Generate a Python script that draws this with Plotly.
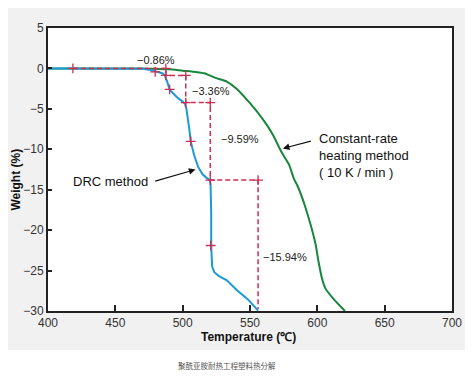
import plotly.graph_objects as go

# Constant-rate heating (10 K/min) curve
green_T = [400, 450, 470, 480, 490, 500, 510, 516, 525, 533, 540, 550, 560, 567, 572, 575, 579, 582.5,
           585.5, 591, 598.5, 601, 603.5, 606, 612, 620.5]
green_W = [0, 0, -0.02, -0.05, -0.1, -0.28, -0.45, -0.6, -1.2, -1.65, -2.5, -4.3, -6.4, -8.2, -9.9, -10.8,
           -11.9, -13.6, -14.6, -17.1, -21.6, -24.0, -26.0, -27.2, -28.5, -30]

# DRC method curve
blue_T = [400, 460, 470, 475, 479.5, 483, 485.5, 486.8, 488.5, 490.3, 493, 496, 500, 501.8, 502.8, 503.6,
          505, 506, 508.5, 511.4, 514.6, 517.5, 519.8, 520.7, 521.2, 521.2, 521.3, 521.9, 523.5, 527,
          532.8, 540.1, 548.7, 554.7, 556]
blue_W = [0, 0, -0.05, -0.15, -0.3, -0.5, -0.65, -0.9, -1.64, -2.6, -3.1, -3.6, -4.1, -4.4, -5.0, -5.8,
          -7.6, -9.06, -10.7, -12.15, -13.06, -13.5, -13.75, -14.2, -17.9, -22.05, -23.5, -24.5, -25.2,
          -25.7, -26.2, -27.4, -28.6, -29.7, -29.95]

# Step construction (dashed)
step_T = [418.5, 487.5, 487.5, 502.3, 502.3, 520.5, 520.5, 556, 556]
step_W = [0, 0, -0.86, -0.86, -4.22, -4.22, -13.81, -13.81, -29.75]
corner_T = step_T[:-1]
corner_W = step_W[:-1]
mid_T = [479.6, 490.3, 506, 520.8]
mid_W = [-0.43, -2.6, -9.02, -21.9]

step_labels = ["−0.86%", "−3.36%", "−9.59%", "−15.94%"]
label_T = [479.9, 505.8, 526.8, 558.4]
label_W = [1.04, -2.75, -8.73, -23.3]
label_anchor = ["center", "left", "left", "left"]

x_ticks = [400, 450, 500, 550, 600, 650, 700]
y_ticks = [-30, -25, -20, -15, -10, -5, 0, 5]

RED = "#cc2f50"
GREEN = "#16873b"
BLUE = "#1b9ad7"
FONT = "Liberation Sans, Arial, sans-serif"

fig = go.Figure()
fig.add_trace(go.Scatter(x=green_T, y=green_W, mode="lines",
                         line=dict(color=GREEN, width=2, shape="spline", smoothing=0.6),
                         hoverinfo="skip"))
fig.add_trace(go.Scatter(x=blue_T, y=blue_W, mode="lines",
                         line=dict(color=BLUE, width=2), hoverinfo="skip"))
fig.add_trace(go.Scatter(x=step_T, y=step_W, mode="lines",
                         line=dict(color=RED, width=1.5, dash="5px,3px"), hoverinfo="skip"))
fig.add_trace(go.Scatter(x=corner_T + mid_T, y=corner_W + mid_W, mode="markers",
                         marker=dict(symbol="cross-thin", size=7, line=dict(color=RED, width=1.3)),
                         hoverinfo="skip"))

ann = []
for t, w, s, a in zip(label_T, label_W, step_labels, label_anchor):
    ann.append(dict(x=t, y=w, text=s, showarrow=False, xanchor=a, yanchor="middle",
                    font=dict(size=11, color="#222", family=FONT)))

ann.append(dict(x=446.5, y=-14.0, text="DRC method", showarrow=False, xanchor="center",
                yanchor="middle", font=dict(size=13, color="#111", family=FONT)))
ann.append(dict(x=509.5, y=-12.5, ax=478.5, ay=-14.0, axref="x", ayref="y", text="",
                showarrow=True, arrowhead=2, arrowsize=1.1, arrowwidth=1.2, arrowcolor="#111"))
ann.append(dict(x=600, y=-10.8, text="Constant-rate<br>heating method<br>( 10 K / min )",
                showarrow=False, xanchor="left", yanchor="middle", align="left",
                font=dict(size=13, color="#111", family=FONT)))
ann.append(dict(x=574.4, y=-9.9, ax=596.3, ay=-8.94, axref="x", ayref="y", text="",
                showarrow=True, arrowhead=2, arrowsize=1.1, arrowwidth=1.2, arrowcolor="#111"))

ann.append(dict(xref="paper", yref="paper", x=0.4964, y=-0.092, text="<b>Temperature (℃)</b>",
                showarrow=False, xanchor="center", yanchor="middle",
                font=dict(size=12, color="#111", family=FONT)))
ann.append(dict(xref="paper", yref="paper", x=-0.078, y=0.466, text="<b>Weight (%)</b>",
                showarrow=False, xanchor="center", yanchor="middle", textangle=-90,
                font=dict(size=12, color="#111", family=FONT)))
ann.append(dict(xref="paper", yref="paper", x=0.444, y=-0.191, text="聚酰亚胺耐热工程塑料热分解",
                showarrow=False, xanchor="center", yanchor="middle",
                font=dict(size=7.5, color="#555", family="Noto Sans CJK SC")))

shapes = [
    dict(type="rect", xref="paper", yref="paper", x0=-0.112, x1=1.0316, y0=-0.1378, y1=1.0919,
         fillcolor="#f1f1f1", line=dict(width=0), layer="below"),
    dict(type="rect", xref="paper", yref="paper", x0=0, x1=1, y0=0, y1=1,
         fillcolor="white", line=dict(width=0), layer="below"),
]

# page body has an 8px margin: shrink figure/margins so the plot area lands at the same pixels
fig.update_layout(
    width=466, height=371,
    margin=dict(l=40, r=15, t=20, b=68),
    paper_bgcolor="white", plot_bgcolor="rgba(0,0,0,0)",
    showlegend=False,
    font=dict(family=FONT, size=12, color="#333"),
    annotations=ann, shapes=shapes,
    xaxis=dict(range=[400, 700], tickvals=x_ticks, ticks="inside", ticklen=6, tickwidth=1.5,
               tickcolor="#222", showline=True, linewidth=2, linecolor="#222", mirror=True,
               showgrid=False, zeroline=False, tickfont=dict(size=12, color="#333")),
    yaxis=dict(range=[-30, 5], tickvals=y_ticks, ticks="inside", ticklen=4, tickwidth=1.5,
               tickcolor="#222", showline=True, linewidth=2, linecolor="#222", mirror=True,
               showgrid=False, zeroline=False, tickfont=dict(size=12, color="#333")),
)

fig.write_html("out.html")
